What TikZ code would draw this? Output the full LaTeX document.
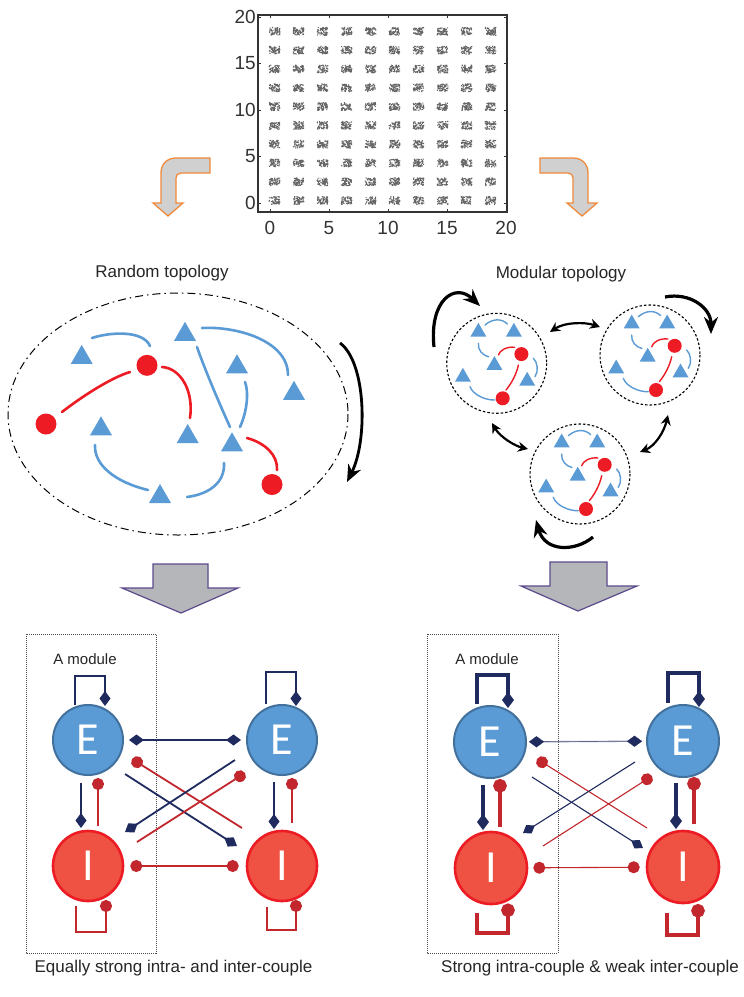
\documentclass[tikz,border=0pt]{standalone}
\usepackage{fontspec}
\setmainfont{Liberation Sans}
\newfontfamily\carlito{Carlito}
\usetikzlibrary{arrows.meta,shapes.geometric,calc}
\definecolor{tblue}{HTML}{5B9BD5}
\definecolor{nred}{HTML}{ED1C24}
\definecolor{eborder}{HTML}{41719C}
\definecolor{ifill}{HTML}{EF5142}
\definecolor{navy}{HTML}{1F2B5E}
\definecolor{dred}{HTML}{C1272D}
\definecolor{grayarrow}{HTML}{B5B6B9}
\definecolor{purpleline}{HTML}{5C4A8C}
\definecolor{orangeline}{HTML}{F08A3C}
\definecolor{orangefill}{HTML}{D0D0D0}
\definecolor{axisgray}{HTML}{333333}
\definecolor{dotgray}{HTML}{666666}
\tikzset{
  tri/.style={regular polygon, regular polygon sides=3, minimum size=25.4pt, inner sep=0pt, fill=tblue},
  stri/.style={regular polygon, regular polygon sides=3, minimum size=18.5pt, inner sep=0pt, fill=tblue},
  rdot/.style={circle, fill=nred, minimum size=21pt, inner sep=0pt},
  srdot/.style={circle, fill=nred, minimum size=14pt, inner sep=0pt},
  bcurve/.style={tblue, line width=2.6pt, line cap=round},
  rcurve/.style={nred, line width=2.6pt, line cap=round},
  sbcurve/.style={tblue, line width=1.4pt, line cap=round},
  srcurve/.style={nred, line width=1.4pt, line cap=round},
  modring/.style={black, line width=1.1pt, dash pattern=on 2.5pt off 2pt},
  dblarrow/.style={black, line width=2.2pt, {Stealth[length=10pt,width=10pt]}-{Stealth[length=10pt,width=10pt]}},
  bigarrow/.style={black, line width=3.2pt, -{Stealth[length=17pt,width=14pt]}},
  Enode/.style={circle, minimum size=70pt, inner sep=0pt, fill=tblue, draw=eborder, line width=2pt, text=white, font=\carlito\fontsize{46}{46}\selectfont},
  Inode/.style={circle, minimum size=70pt, inner sep=0pt, fill=ifill, draw=nred, line width=2.6pt, text=white, font=\carlito\fontsize{46}{46}\selectfont},
  exc/.style={navy, line width=1.8pt, -{Diamond[length=15pt,width=11pt]}},
  inh/.style={dred, line width=1.8pt, -{Circle[length=12pt]}},
  excT/.style={navy, line width=4.3pt, -{Diamond[length=16pt,width=12pt]}},
  inhT/.style={dred, line width=4.3pt, -{Circle[length=13.5pt]}},
  exct/.style={navy, line width=1.1pt, -{Diamond[length=14pt,width=10pt]}},
  inht/.style={dred, line width=1.1pt, -{Circle[length=12pt]}},
  ticklab/.style={font=\fontsize{19}{19}\selectfont, text=axisgray, inner sep=0pt},
  title/.style={font=\fontsize{17}{17}\selectfont, text=black!85, inner sep=0pt},
  modlab/.style={font=\fontsize{15}{15}\selectfont, text=black!85, inner sep=0pt},
  blockarrow/.style={fill=grayarrow, draw=purpleline, line width=1.2pt, line join=miter},
  bendarrow/.style={fill=orangefill, draw=orangeline, line width=1.3pt, line join=miter},
  dotbox/.style={black!70, line width=0.8pt, dash pattern=on 1pt off 1pt},
  pics/module/.style={code={
    \draw[modring] (0,0) circle[radius=50];
    \node[stri] (-t1) at (-18.3,-31.2) {};
    \node[stri] (-t2) at (17.2,-31.2) {};
    \node[stri] (-t3) at (-2.3,2) {};
    \node[stri] (-t4) at (-33.8,13.8) {};
    \node[stri] (-t5) at (30.5,17.8) {};
    \node[srdot] (-c1) at (24.7,-9.2) {};
    \node[srdot] (-c2) at (6,35) {};
    \draw[sbcurve] (-11.7,-38.3) .. controls (-4,-45) and (5,-45) .. (10.7,-39.3);
    \draw[sbcurve] (-18.3,-20) .. controls (-19,-13) and (-14,-8) .. (-8,-6.5);
    \draw[srcurve] (1.7,-8.3) .. controls (3,-13) and (10,-17) .. (18,-16);
    \draw[srcurve] (21.7,1.7) .. controls (20,10) and (15,20) .. (9.3,26.7);
    \draw[sbcurve] (36.7,-5) .. controls (41,-1) and (42,8) .. (38.3,13.3);
    \draw[sbcurve] (-26.7,23.3) .. controls (-24,31) and (-12,37) .. (-1.7,36.7);
  }}
}
\begin{document}
\begin{tikzpicture}[x=1pt,y=-1pt]
\useasboundingbox (0,0) rectangle (744,997);
\fill[white] (0,0) rectangle (744,997);

% ---------------- top scatter plot ----------------
\pgfmathsetseed{11}
\foreach \i in {0,...,9}{
  \foreach \j in {0,...,9}{
    \fill[dotgray] \foreach \k in {1,...,60}{ ({274+24*\i+5.3*rand},{200-18.8*\j+3.9*rand}) rectangle ++(1.1,1.1) };
  }
}
\draw[axisgray, line width=1.8pt] (258,15) rectangle (507,212);
\foreach \v/\l in {0/0,5/5,10/10,15/15,20/20}{
  \draw[axisgray, line width=1pt] ({270+11.8*\v},212) -- ++(0,-3);
  \draw[axisgray, line width=1pt] ({270+11.8*\v},15) -- ++(0,3);
  \draw[axisgray, line width=1pt] (258,{203-9.3*\v}) -- ++(3,0);
  \draw[axisgray, line width=1pt] (507,{203-9.3*\v}) -- ++(-3,0);
  \node[ticklab, anchor=base] (xl\v) at ({270+11.8*\v},234) {\l};
  \node[ticklab, anchor=east] (yl\v) at (256,{203-9.3*\v}) {\l};
}

% orange bent arrows
\draw[bendarrow] (210,158) -- (176,158) .. controls (167,158) and (161,164) .. (161,173)
  -- (161,203) -- (153,203) -- (168,216) -- (183,203) -- (176,203) -- (176,178)
  .. controls (176,175) and (178,173) .. (181,173) -- (210,173) -- cycle;
\draw[bendarrow] (540,158) -- (573,158) .. controls (582,158) and (588,164) .. (588,173)
  -- (588,203) -- (597,203) -- (582,216) -- (567,203) -- (573,203) -- (573,178)
  .. controls (573,175) and (571,173) .. (568,173) -- (540,173) -- cycle;

% ---------------- random topology ----------------
\node[title, anchor=base] (rtitle) at (162,277) {Random topology};
\draw[black, line width=1pt, dash pattern=on 8pt off 4pt on 1.5pt off 4pt] (178,414) ellipse [x radius=170, y radius=121];
\draw[bigarrow, line width=2.8pt] (340,343) .. controls (366,362) and (368,440) .. (347,482);

\draw[bcurve] (92,338) .. controls (110,332) and (143,330) .. (150,346);
\draw[bcurve] (202,328) .. controls (235,326) and (288,340) .. (288,375);
\draw[bcurve] (197,347) .. controls (205,370) and (220,405) .. (230,427);
\draw[bcurve] (245,382) .. controls (249,392) and (247,412) .. (240,427);
\draw[bcurve] (95,445) .. controls (94,465) and (115,482) .. (148,490);
\draw[bcurve] (187,497) .. controls (210,494) and (225,482) .. (224,463);
\draw[rcurve] (62,412) .. controls (80,398) and (110,378) .. (130,372);
\draw[rcurve] (162,367) .. controls (180,368) and (194,390) .. (190,418);
\draw[rcurve] (247,438) .. controls (265,443) and (278,455) .. (277,470);

\node[tri] (T1) at (81.7,357.6) {};
\node[tri] (T2) at (185,334.5) {};
\node[tri] (T3) at (237,367) {};
\node[tri] (T4) at (294,393.5) {};
\node[tri] (T5) at (101,429) {};
\node[tri] (T6) at (187.7,436.7) {};
\node[tri] (T7) at (232,445) {};
\node[tri] (T8) at (160,496.7) {};
\node[rdot] (C1) at (147,365.3) {};
\node[rdot] (C2) at (46,424) {};
\node[rdot] (C3) at (272,484.5) {};

% ---------------- modular topology ----------------
\node[title, anchor=base] (mtitle) at (561,278) {Modular topology};
\pic (mA) at (496.7,363.3) {module};
\pic (mB) at (650,355) {module};
\pic (mC) at (580,474) {module};
\draw[dblarrow] (550,332) .. controls (565,322) and (585,322) .. (600,327);
\draw[dblarrow] (492,423) .. controls (500,437) and (515,446) .. (528,449);
\draw[dblarrow] (668,415) .. controls (664,432) and (655,446) .. (640,452);
\draw[bigarrow] (434,347) .. controls (429,300) and (455,282) .. (480,306);
\draw[bigarrow] (665,297) .. controls (690,292) and (711,308) .. (711,334);
\draw[bigarrow] (593,537) .. controls (575,552) and (545,552) .. (536,520);

% gray block arrows
\draw[blockarrow] (153,564) -- (208,564) -- (208,588) -- (238,588) -- (181,613) -- (122,588) -- (153,588) -- cycle;
\draw[blockarrow] (550,562) -- (607,562) -- (607,586) -- (637,586) -- (578,611) -- (521,586) -- (550,586) -- cycle;

% ---------------- bottom left panel ----------------
\draw[dotbox] (26,634) rectangle (156,953);
\node[modlab, anchor=base] (lmod) at (85,664) {A module};
\node[Enode] (EL) at (88,740) {E};
\node[Inode] (IL) at (88,866) {I};
\node[Enode] (ER) at (282,740) {E};
\node[Inode] (IR) at (282,866) {I};

\draw[exc] ($(EL)+(-13,-35)$) -- ++(0,-29) -| ($(EL)+(17,-34)$);
\draw[exc] ($(ER)+(-16,-36)$) -- ++(0,-32) -| ($(ER)+(14,-34)$);
\draw[navy, line width=1.8pt, {Diamond[length=15pt,width=11pt]}-{Diamond[length=15pt,width=11pt]}, shorten <=5pt, shorten >=5pt] (EL) -- (ER);
\draw[exc] ($(EL)+(-7,43)$) -- ($(IL)+(-7,-38)$);
\draw[inh] ($(IL)+(10,-40)$) -- ($(EL)+(10,38)$);
\draw[exc] ($(ER)+(-8,42)$) -- ($(IR)+(-8,-37)$);
\draw[inh] ($(IR)+(10,-43)$) -- ($(ER)+(10,38)$);
\draw[exc] ($(EL)+(37,34)$) -- ($(IR)+(-45,-20)$);
\draw[inh] ($(IR)+(-40,-38)$) -- ($(EL)+(44,19)$);
\draw[exc] ($(ER)+(-47,20)$) -- ($(IL)+(37,-34)$);
\draw[inh] ($(IL)+(49,-24)$) -- ($(ER)+(-37,33)$);
\draw[dred, line width=1.8pt, {Circle[length=12pt]}-{Circle[length=12pt]}, shorten <=6pt, shorten >=7pt] (IL) -- (IR);
\draw[inh] ($(IL)+(-12,40)$) -- ++(0,26) -| ($(IL)+(18,34)$);
\draw[inh] ($(IR)+(-15,41)$) -- ++(0,23) -| ($(IR)+(14,34)$);

% ---------------- bottom right panel ----------------
\draw[dotbox] (427,634) rectangle (558,953);
\node[modlab, anchor=base] (rmod) at (487,664) {A module};
\node[Enode, minimum size=72pt] (EL2) at (490,742) {E};
\node[Inode, minimum size=72pt] (IL2) at (491,868) {I};
\node[Enode, minimum size=72pt] (ER2) at (683,741) {E};
\node[Inode, minimum size=72pt] (IR2) at (683,867) {I};

\draw[excT] ($(EL2)+(-13,-38)$) -- ++(0,-29) -| ($(EL2)+(18,-34)$);
\draw[excT] ($(ER2)+(-15,-38)$) -- ++(0,-30) -| ($(ER2)+(16,-34)$);
\draw[navy!55, line width=1.3pt, shorten <=8pt, shorten >=10pt] (EL2) -- (ER2);
\draw[navy, line width=0.1pt, {Diamond[length=15pt,width=11pt]}-{Diamond[length=15pt,width=11pt]}, shorten <=2pt, shorten >=4pt] (EL2) -- (ER2);
\draw[excT] ($(EL2)+(-7,43)$) -- ($(IL2)+(-8,-38)$);
\draw[inhT] ($(IL2)+(9,-41)$) -- ($(EL2)+(10,37)$);
\draw[excT] ($(ER2)+(-7,42)$) -- ($(IR2)+(-7,-38)$);
\draw[inhT] ($(IR2)+(11,-43)$) -- ($(ER2)+(11,36)$);
\draw[inhT] ($(IL2)+(-14,45)$) -- ++(0,20) -| ($(IL2)+(17,35.5)$);
\draw[inhT] ($(IR2)+(-16,46)$) -- ++(0,22) -| ($(IR2)+(15,37)$);
\draw[exct] ($(EL2)+(42,35)$) -- ($(IR2)+(-40,-19)$);
\draw[inht] ($(IR2)+(-36,-39)$) -- ($(EL2)+(47,17)$);
\draw[exct] ($(ER2)+(-48,21)$) -- ($(IL2)+(32,-35)$);
\draw[inht] ($(IL2)+(52,-22)$) -- ($(ER2)+(-31,35)$);
\draw[dred, line width=1.1pt, {Circle[length=12pt]}-{Circle[length=12pt]}, shorten <=5pt, shorten >=6pt] (IL2) -- (IR2);

% captions
\node[title, anchor=base] (capL) at (173.5,972) {Equally strong intra- and inter-couple};
\node[title, anchor=base] (capR) at (590,972) {Strong intra-couple \& weak inter-couple};
\end{tikzpicture}
\end{document}
